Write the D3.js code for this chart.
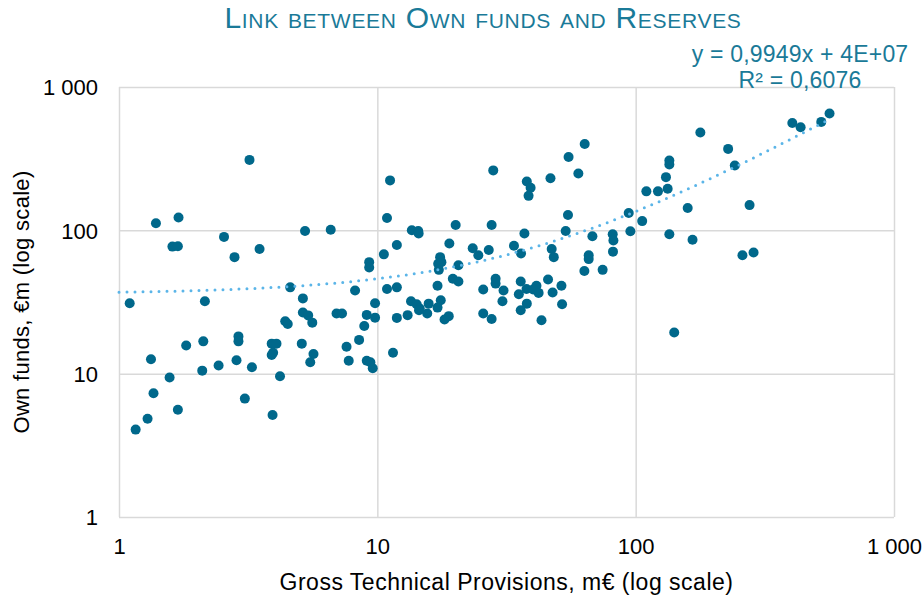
<!DOCTYPE html>
<html>
<head>
<meta charset="utf-8">
<script src="https://cdn.jsdelivr.net/npm/d3@7"></script>
<style>
  body { margin: 0; background: #fff; }
  svg { display: block; font-family: "Liberation Sans", Arial, sans-serif; }
</style>
</head>
<body>
<svg id="chart" width="924" height="599"></svg>
<script>
// gross technical provisions (m€) and own funds (m€), one entry per undertaking
const provisions = [
  3.2, 1.39, 1.7, 2.55, 1.61, 1.69, 2.8, 3.5, 5.25, 6.6, 9.3, 9.3, 10.6, 8.2, 4.6, 5.15, 2.15, 1.1, 9.8, 5.15,
  5.4, 5.6, 6.95, 7.3, 9.1, 9.8, 4.4, 4.5, 8.9, 2.9, 2.9, 2.12, 1.82, 3.9, 4.07, 5.1, 8.5, 7.6, 3.95, 3.9,
  5.66, 5.5, 1.33, 2.85, 2.43, 2.1, 3.27, 7.75, 9.1, 9.4, 9.6, 1.57, 4.2, 1.36, 3.07, 1.69, 3.93, 1.29, 1.16,
  11.2, 28.1, 63.5, 55, 60, 46.8, 37.9, 39.2, 38.5, 10.9, 54.7, 94, 13.6, 14.4, 14.45, 20.1, 27.7, 37.1, 53.6, 68,
  81.5, 82, 106, 11.9, 19, 23.4, 24.6, 27, 33.8, 36, 47.3, 48.2, 65.8, 65.8, 81.7, 17.5, 17.7, 17.2, 17.3, 20.6,
  63.3, 74.5, 19.6, 20.6, 10.9, 11.9, 17.1, 28.7, 28.7, 25.7, 30.8, 35.9, 45.8, 51.6, 37.8, 41.3, 40.1, 42.1, 35.3, 47.7,
  13.5, 14.2, 14.6, 14.5, 15.8, 15.6, 17.6, 17.1, 18.9, 18.2, 13.1, 11.9, 11.5, 25.7, 27.7, 30.5, 37.9, 35.9, 51.9, 43.2,
  563, 404, 435, 523, 178, 228, 242, 135, 135, 131, 110, 122, 133, 159, 276, 95.4, 135, 166, 259, 286, 141
];
const ownFunds = [
  310, 112, 123, 90, 77, 77.5, 65, 74, 99, 101, 60, 55, 68, 38, 40, 33.5, 32, 31, 31, 26.7,
  25.5, 22.7, 26.3, 26.3, 25.7, 24.6, 23.2, 22.2, 21.5, 18.2, 16.8, 16.8, 15.7, 16.2, 16.2, 16.2, 17.2, 15.4, 14, 13.5,
  13.7, 12, 12.6, 12.4, 11.4, 10.5, 11.1, 12.3, 12.3, 12, 10.9, 9.4, 9.6, 7.3, 6.7, 5.6, 5.15, 4.85, 4.07,
  223, 262, 400, 325, 249, 231, 219, 198, 174, 122, 128, 132, 100, 99, 95, 109, 109, 95, 99, 91,
  94, 85, 116, 79, 81, 75, 67, 73, 78, 69, 74, 65, 67, 63, 71, 65, 60, 58.5, 53, 57,
  52, 53, 46, 44, 39, 40, 41, 46, 42.5, 38.6, 38, 44, 45.4, 41, 39, 41, 38.6, 36.6, 35.8, 36.8,
  32, 30.5, 28.5, 27.7, 30.8, 26.3, 32.5, 28.9, 25.2, 23.9, 25.6, 24.5, 14, 26.3, 24.1, 32, 30.8, 27.7, 30.5, 23.6,
  653, 561, 524, 571, 481, 370, 283, 307, 288, 235, 187, 187, 195, 143, 150, 98.6, 94, 86, 67, 70, 19.4
];

// linear trendline as shown in the chart (values in m€)
const trendSlope = 0.9949;
const trendIntercept = 36;
const trendFrom = 1;
const equationLines = ["y = 0,9949x + 4E+07", "R\u00B2 = 0,6076"];

const tickValues = [1, 10, 100, 1000];
const tickLabels = ["1", "10", "100", "1 000"];

const svg = d3.select("#chart");
const plot = { left: 119, right: 894, top: 87, bottom: 517 };

const x = d3.scaleLog().domain([1, 1000]).range([plot.left, plot.right]);
const y = d3.scaleLog().domain([1, 1000]).range([plot.bottom, plot.top]);

const gridColor = "#d9d9d9";
const labelFmt = d => tickLabels[tickValues.indexOf(d)];

// x axis with vertical gridlines
const gx = svg.append("g")
  .attr("transform", "translate(0," + plot.bottom + ")")
  .call(d3.axisBottom(x).tickValues(tickValues).tickFormat(labelFmt).tickSize(-(plot.bottom - plot.top)));
gx.select(".domain").remove();
gx.selectAll(".tick line").attr("stroke", gridColor).attr("stroke-width", 1.5);
gx.selectAll(".tick text")
  .attr("y", 37).attr("dy", 0)
  .attr("font-size", 22).attr("font-family", "Liberation Sans, Arial, sans-serif")
  .attr("fill", "#000");

// y axis with horizontal gridlines
const gy = svg.append("g")
  .attr("transform", "translate(" + plot.left + ",0)")
  .call(d3.axisLeft(y).tickValues(tickValues).tickFormat(labelFmt).tickSize(-(plot.right - plot.left)));
gy.select(".domain").remove();
gy.selectAll(".tick line").attr("stroke", gridColor).attr("stroke-width", 1.5);
gy.selectAll(".tick text")
  .attr("x", -21).attr("dy", "0.36em")
  .attr("font-size", 22).attr("font-family", "Liberation Sans, Arial, sans-serif")
  .attr("fill", "#000");

// points
const points = provisions.map((p, i) => ({ p: p, f: ownFunds[i] }));
svg.append("g")
  .selectAll("circle")
  .data(points)
  .enter().append("circle")
  .attr("cx", d => x(d.p))
  .attr("cy", d => y(d.f))
  .attr("r", 5)
  .attr("fill", "#00688b");

// trendline, from the axis start to the largest provision
const xMax = d3.max(provisions);
const trendX = d3.range(0, 101).map(i => trendFrom * Math.pow(xMax / trendFrom, i / 100));
const line = d3.line()
  .x(d => x(d))
  .y(d => y(trendSlope * d + trendIntercept));
svg.append("path")
  .datum(trendX)
  .attr("d", line)
  .attr("fill", "none")
  .attr("stroke", "#5bb5e8")
  .attr("stroke-width", 3)
  .attr("stroke-linecap", "round")
  .attr("stroke-dasharray", "0 8");

// title
svg.append("text")
  .attr("x", 483)
  .attr("y", 28)
  .attr("text-anchor", "middle")
  .attr("font-size", 30)
  .attr("letter-spacing", 0.7)
  .attr("font-variant", "small-caps")
  .attr("fill", "#1a7a98")
  .text("Link between Own funds and Reserves");

// trendline equation
svg.append("g")
  .selectAll("text")
  .data(equationLines)
  .enter().append("text")
  .attr("x", 800)
  .attr("y", (d, i) => 62 + i * 26)
  .attr("text-anchor", "middle")
  .attr("font-size", 23)
  .attr("letter-spacing", 0.2)
  .attr("fill", "#1a7a98")
  .text(d => d);

// axis titles
svg.append("text")
  .attr("x", (plot.left + plot.right) / 2)
  .attr("y", 590)
  .attr("text-anchor", "middle")
  .attr("font-size", 23)
  .attr("letter-spacing", 0.5)
  .attr("fill", "#000")
  .text("Gross Technical Provisions, m\u20AC (log scale)");

svg.append("text")
  .attr("transform", "translate(29," + ((plot.top + plot.bottom) / 2) + ") rotate(-90)")
  .attr("text-anchor", "middle")
  .attr("font-size", 22)
  .attr("letter-spacing", 0.3)
  .attr("fill", "#000")
  .text("Own funds, \u20ACm (log scale)");
</script>
</body>
</html>
